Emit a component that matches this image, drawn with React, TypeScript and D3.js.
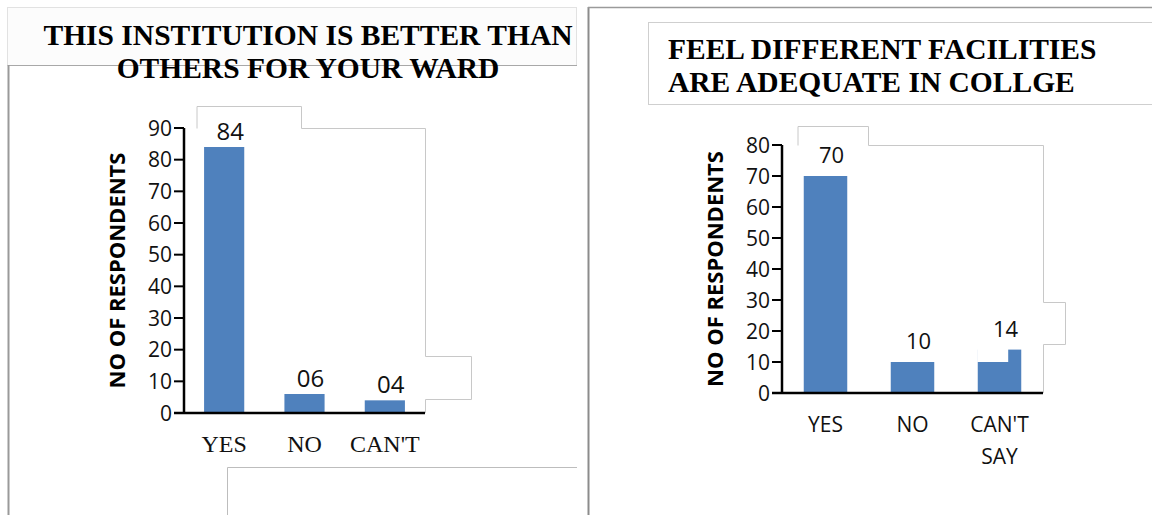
import React from 'react';
import * as d3 from 'd3';

// ---------- data ----------
const leftTitleLines = ['THIS INSTITUTION IS BETTER THAN', 'OTHERS FOR YOUR WARD'];
const rightTitleLines = ['FEEL DIFFERENT FACILITIES', 'ARE ADEQUATE IN COLLGE'];
const yAxisTitle = 'NO OF RESPONDENTS';

const leftCategories = ['YES', 'NO', "CAN'T SAY"];
const leftValues = [84, 6, 4];
const leftValueLabels = ['84', '06', '04'];
const leftTicks = [0, 10, 20, 30, 40, 50, 60, 70, 80, 90];

const rightCategories = ['YES', 'NO', "CAN'T SAY"];
const rightValues = [70, 10, 14];
const rightValueLabels = ['70', '10', '14'];
const rightTicks = [0, 10, 20, 30, 40, 50, 60, 70, 80];
// the scanned CAN'T SAY bar is partly masked down to this level
const rightMaskLevel = 10;

const BAR = '#4f81bd';
const SANS = '"Open Sans", "Noto Sans", sans-serif';
const SERIF = '"Liberation Serif", "DejaVu Serif", serif';

type ChartProps = {
  cats: string[];
  values: number[];
  labels: string[];
  ticks: number[];
  x0: number; x1: number; yTop: number; yBottom: number;
  catFont: string; catSize: number;
  valSize: number; valDy: number; valDx: number;
  titleX: number;
  outline: string;
  mask?: number;
};

function BarChart(p: ChartProps) {
  const max = p.ticks[p.ticks.length - 1];
  const y = d3.scaleLinear().domain([0, max]).range([p.yBottom, p.yTop]);
  const x = d3.scaleBand().domain(p.cats).range([p.x0, p.x1]).paddingInner(0.5).paddingOuter(0.25);
  const bw = x.bandwidth();
  const ty = (p.yTop + p.yBottom) / 2;
  return (
    <g>
      <path d={p.outline} fill="none" stroke="#c8c8c8" strokeWidth={1} />
      {p.cats.map((c, i) => (
        <rect key={c} x={x(c)} y={y(p.values[i])} width={bw} height={y(0) - y(p.values[i])} fill={BAR} />
      ))}
      {p.mask !== undefined && (
        <rect
          x={x(p.cats[2])! - 0.5}
          y={y(p.values[2]) - 1}
          width={bw * 0.7 + 0.5}
          height={y(p.mask) - y(p.values[2]) + 1}
          fill="#fff"
        />
      )}
      {p.cats.map((c, i) => (
        <text key={c} x={x(c)! + bw / 2 + p.valDx} y={y(p.values[i]) + p.valDy}
          textAnchor="middle" fontFamily={SANS} fontSize={p.valSize} fill="#111">
          {p.labels[i]}
        </text>
      ))}
      {/* y axis */}
      <line x1={p.x0} x2={p.x0} y1={p.yTop} y2={p.yBottom} stroke="#000" strokeWidth={2.5} />
      {p.ticks.map((t) => (
        <g key={t}>
          <line x1={p.x0 - 10} x2={p.x0} y1={y(t)} y2={y(t)} stroke="#000" strokeWidth={2} />
          <text x={p.x0 - 12} y={y(t)} dy="0.36em" textAnchor="end" fontFamily={SANS} fontSize={21} fill="#111">
            {t}
          </text>
        </g>
      ))}
      {/* x axis */}
      <line x1={p.x0 - 10} x2={p.x1} y1={p.yBottom} y2={p.yBottom} stroke="#000" strokeWidth={2.5} />
      {p.cats.map((c) => {
        const parts = c === "CAN'T SAY" ? ["CAN'T", 'SAY'] : [c];
        return parts.map((s, j) => (
          <text key={c + j} x={x(c)! + bw / 2} y={p.yBottom + 39 + j * 32} textAnchor="middle"
            fontFamily={p.catFont} fontSize={p.catSize} fill="#111">
            {s}
          </text>
        ));
      })}
      <text transform={`translate(${p.titleX},${ty}) rotate(-90)`} textAnchor="middle" dy="0.36em"
        fontFamily={SANS} fontWeight="bold" fontSize={22} fill="#000">
        {yAxisTitle}
      </text>
    </g>
  );
}

export default function App() {
  const titleStyle = { fontFamily: SERIF, fontWeight: 'bold' as const, fontSize: 29.5, fill: '#000' };
  return (
    <svg width={1152} height={515} style={{ position: 'absolute', left: 0, top: 0, display: 'block', background: '#fff' }}>
      <rect x={0} y={0} width={1152} height={515} fill="#fff" />
      {/* left panel frame */}
      <rect x={7.5} y={7.5} width={569} height={58} fill="#fcfcfc" stroke="#e2e2e2" />
      <line x1={8} x2={577} y1={65.5} y2={65.5} stroke="#a8a8a8" strokeWidth={1} />
      <line x1={8.5} x2={8.5} y1={65} y2={515} stroke="#9a9a9a" strokeWidth={2} />
      {leftTitleLines.map((l, i) => (
        <text key={l} x={308} y={45 + i * 33} textAnchor="middle" {...titleStyle}>{l}</text>
      ))}

      <BarChart
        cats={leftCategories} values={leftValues} labels={leftValueLabels} ticks={leftTicks}
        x0={184} x1={425} yTop={128} yBottom={413}
        catFont={SERIF} catSize={24} valSize={24} valDy={-7} valDx={6} titleX={117}
        outline="M197,128.5 V106.5 H301.5 V128.5 H425.5 V356.5 H471.5 V399.5 H425.5 V413"
      />
      {/* overlay box hiding the second line of the label */}
      <path d="M577,467.5 H227.5 V515" fill="none" stroke="#bdbdbd" strokeWidth={1} />
      <rect x={228} y={468} width={349} height={47} fill="#fff" />

      {/* right panel frame */}
      <line x1={588.5} x2={588.5} y1={7} y2={515} stroke="#8c8c8c" strokeWidth={2} />
      <line x1={588} x2={1152} y1={7.5} y2={7.5} stroke="#9a9a9a" strokeWidth={1.5} />
      <rect x={648.5} y={22.5} width={510} height={82} fill="#fff" stroke="#cfcfcf" strokeWidth={1} />
      {rightTitleLines.map((l, i) => (
        <text key={l} x={668} y={59 + i * 33} textAnchor="start" {...titleStyle}>{l}</text>
      ))}

      <BarChart
        cats={rightCategories} values={rightValues} labels={rightValueLabels} ticks={rightTicks}
        x0={782} x1={1043} yTop={145} yBottom={393}
        catFont={SANS} catSize={21} valSize={22} valDy={-13} valDx={6} titleX={715}
        outline="M798,145.5 V126.5 H868.5 V145.5 H1043.5 V302.5 H1065.5 V344.5 H1043.5 V393"
        mask={rightMaskLevel}
      />
    </svg>
  );
}
